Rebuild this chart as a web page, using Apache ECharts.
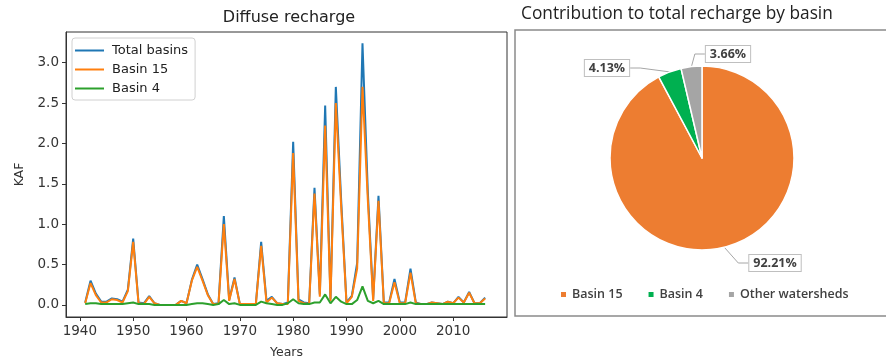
<!DOCTYPE html>
<html>
<head>
<meta charset="utf-8">
<script src="https://cdn.jsdelivr.net/npm/echarts@6/dist/echarts.min.js"></script>
<style>
html,body{margin:0;padding:0;background:#fff;}
#left{position:absolute;left:0;top:0;width:510px;height:359px;}
#right{position:absolute;left:510px;top:0;width:376px;height:359px;}
</style>
</head>
<body>
<div id="left"></div>
<div id="right"></div>
<script>
const years = [];
for (let y = 1941; y <= 2016; y++) years.push(y);

const totalBasins = [
  0.03,0.30,0.14,0.04,0.04,0.08,0.07,0.04,0.19,0.82,
  0.03,0.02,0.11,0.02,0.00,0.00,0.00,0.00,0.05,0.02,
  0.31,0.50,0.32,0.13,0.01,0.02,1.10,0.06,0.34,0.01,
  0.01,0.01,0.01,0.78,0.05,0.10,0.02,0.01,0.03,2.02,
  0.07,0.03,0.02,1.45,0.13,2.47,0.07,2.70,1.30,0.03,
  0.11,0.52,3.24,1.40,0.07,1.35,0.03,0.03,0.32,0.03,
  0.03,0.45,0.03,0.01,0.01,0.03,0.02,0.01,0.04,0.02,
  0.10,0.03,0.16,0.02,0.02,0.09
];
const basin15 = [
  0.02,0.27,0.12,0.03,0.03,0.07,0.06,0.03,0.17,0.78,
  0.02,0.01,0.10,0.02,0.00,0.00,0.00,0.00,0.05,0.02,
  0.30,0.47,0.30,0.12,0.01,0.01,1.00,0.05,0.32,0.01,
  0.01,0.01,0.01,0.73,0.03,0.09,0.02,0.01,0.01,1.88,
  0.05,0.02,0.01,1.38,0.10,2.22,0.05,2.50,1.22,0.02,
  0.10,0.45,2.70,1.30,0.05,1.29,0.02,0.02,0.28,0.02,
  0.02,0.40,0.02,0.01,0.01,0.03,0.02,0.01,0.04,0.02,
  0.09,0.03,0.15,0.02,0.02,0.08
];
const basin4 = [
  0.01,0.02,0.02,0.01,0.01,0.01,0.01,0.01,0.02,0.03,
  0.01,0.01,0.01,0.00,0.00,0.00,0.00,0.00,0.00,0.00,
  0.01,0.02,0.02,0.01,0.00,0.01,0.06,0.01,0.02,0.00,
  0.00,0.00,0.00,0.04,0.02,0.01,0.00,0.00,0.02,0.07,
  0.02,0.01,0.01,0.03,0.03,0.13,0.02,0.10,0.04,0.01,
  0.01,0.06,0.23,0.05,0.02,0.05,0.01,0.01,0.01,0.01,
  0.01,0.03,0.01,0.01,0.01,0.01,0.01,0.01,0.01,0.01,
  0.01,0.01,0.01,0.01,0.01,0.01
];
const xTicks = [1940,1950,1960,1970,1980,1990,2000,2010];
const yTicks = [0,0.5,1.0,1.5,2.0,2.5,3.0];

const pieNames = ['Basin 15','Basin 4','Other watersheds'];
const pieValues = [92.21, 4.13, 3.66];

const pair = arr => years.map((y, i) => [y, arr[i]]);
const lineFont = 'DejaVu Sans';

const left = echarts.init(document.getElementById('left'));
left.setOption({
  animation: false,
  title: {
    text: 'Diffuse recharge', left: 284, top: 5, textAlign: 'center',
    textStyle: {fontFamily: lineFont, fontSize: 16, fontWeight: 'normal', color: '#222'}
  },
  legend: {
    left: 72, top: 38, orient: 'vertical', icon: 'rect',
    itemWidth: 29, itemHeight: 2, itemGap: 6,
    padding: [6, 7, 5, 3],
    borderColor: '#d0d0d0', borderWidth: 1, borderRadius: 3,
    textStyle: {fontFamily: lineFont, fontSize: 13, color: '#222', padding: [0, 0, 0, 3]},
    data: ['Total basins', 'Basin 15', 'Basin 4']
  },
  grid: {left: 66, top: 32, right: 3, bottom: 42, show: true, borderColor: '#333', borderWidth: 1,
    containLabel: false, outerBoundsMode: 'none'},
  xAxis: {
    type: 'value', min: 1937.4, max: 2020.1,
    name: 'Years', nameLocation: 'middle', nameGap: 29,
    nameTextStyle: {fontFamily: lineFont, fontSize: 12.5, color: '#333'},
    axisLine: {show: true, onZero: false, lineStyle: {color: '#333'}},
    axisTick: {show: true, customValues: xTicks, length: 4, inside: false, lineStyle: {color: '#333'}},
    axisLabel: {customValues: xTicks, fontFamily: lineFont, fontSize: 13.5, color: '#333', margin: 7,
      formatter: v => String(v)},
    splitLine: {show: false}
  },
  yAxis: {
    type: 'value', min: -0.15, max: 3.38,
    name: 'KAF', nameLocation: 'middle', nameGap: 38, nameRotate: 90,
    nameTextStyle: {fontFamily: lineFont, fontSize: 12.5, color: '#333'},
    axisLine: {show: true, onZero: false, lineStyle: {color: '#333'}},
    axisTick: {show: true, customValues: yTicks, length: 4, inside: false, lineStyle: {color: '#333'}},
    axisLabel: {customValues: yTicks, fontFamily: lineFont, fontSize: 13.5, color: '#333', margin: 7,
      formatter: v => v.toFixed(1)},
    splitLine: {show: false}
  },
  series: [
    {name: 'Total basins', type: 'line', data: pair(totalBasins), symbol: 'none', color: '#1f77b4', lineStyle: {width: 2}},
    {name: 'Basin 15', type: 'line', data: pair(basin15), symbol: 'none', color: '#ff7f0e', lineStyle: {width: 2}},
    {name: 'Basin 4', type: 'line', data: pair(basin4), symbol: 'none', color: '#2ca02c', lineStyle: {width: 2}}
  ]
});

const pieFont = 'Open Sans';
const labelPos = [[265, 263], [97, 68], [218, 54]];
const right = echarts.init(document.getElementById('right'));
right.setOption({
  animation: false,
  title: {
    text: 'Contribution to total recharge by basin', left: 6, top: 1,
    textStyle: {fontFamily: pieFont, fontSize: 17.3, fontWeight: 'normal', color: '#222'}
  },
  graphic: [{
    type: 'rect', shape: {x: 5, y: 30, width: 390, height: 286},
    style: {fill: 'none', stroke: '#8a8a8a', lineWidth: 1.5}, silent: true
  }],
  legend: {
    left: 44, top: 283, itemWidth: 7, itemHeight: 7, itemGap: 24, icon: 'rect',
    textStyle: {fontFamily: pieFont, fontSize: 12.5, fontWeight: 600, color: '#404040'},
    data: pieNames
  },
  series: [{
    type: 'pie', center: [192, 158], radius: 92, startAngle: 90, clockwise: true,
    color: ['#ED7D31', '#00B050', '#A5A5A5'],
    itemStyle: {borderColor: '#fff', borderWidth: 1.5},
    label: {
      show: true, position: 'outside', formatter: p => p.value.toFixed(2) + '%',
      fontFamily: pieFont, fontSize: 12.5, fontWeight: 'bold', color: '#404040',
      backgroundColor: '#fff', borderColor: '#bfbfbf', borderWidth: 1, padding: [2, 4, 1, 4]
    },
    labelLine: {show: true, length: 10, length2: 10, lineStyle: {color: '#a6a6a6', width: 1}},
    labelLayout: p => ({x: labelPos[p.dataIndex][0], y: labelPos[p.dataIndex][1], align: 'center', verticalAlign: 'middle'}),
    data: pieNames.map((n, i) => ({name: n, value: pieValues[i]}))
  }]
});
</script>
</body>
</html>
